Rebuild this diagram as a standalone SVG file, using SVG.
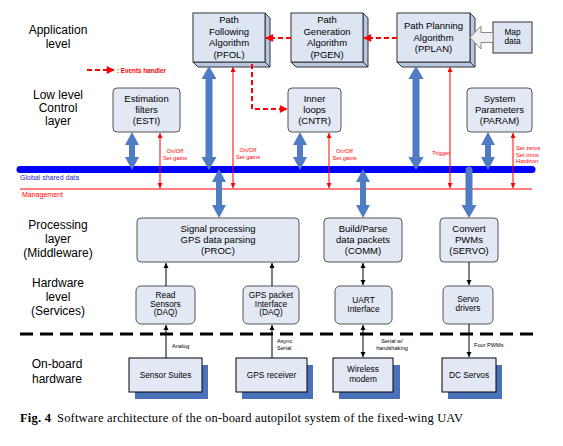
<svg xmlns="http://www.w3.org/2000/svg" width="563" height="446" viewBox="0 0 563 446">
<style>
.lbl{font-family:"Liberation Sans",Arial,sans-serif;font-size:12px;fill:#000;text-anchor:middle}
.bt{font-family:"Liberation Sans",Arial,sans-serif;font-size:9.5px;fill:#000;text-anchor:middle}
.st{font-family:"Liberation Sans",Arial,sans-serif;font-size:8.3px;fill:#000;text-anchor:middle}
.tiny{font-family:"Liberation Sans",Arial,sans-serif;font-size:5.6px;fill:#000}
.rt{font-family:"Liberation Sans",Arial,sans-serif;font-size:5.8px;fill:#f00}
.front{fill:#dde5f2;stroke:#333;stroke-width:1}
.side{fill:#b7c7e2;stroke:#333;stroke-width:1}
.rbox{fill:#e3e9f4;stroke:#555;stroke-width:1}
.hw{fill:#e3e9f4;stroke:#000;stroke-width:1}
.shadow{fill:#4a72bb}
.barrow{fill:#4f7cc3}
.red{stroke:#f00;stroke-width:1;fill:none}
.rdash{stroke:#f00;stroke-width:2;stroke-dasharray:5 3;fill:none}
.blk{stroke:#000;stroke-width:1;fill:none}
.cap{font-family:"Liberation Serif","Times New Roman",serif;font-size:12.5px;fill:#000}
</style>
<defs>
<marker id="ra" viewBox="0 0 10 10" refX="10" refY="5" markerWidth="5" markerHeight="5" orient="auto-start-reverse" markerUnits="userSpaceOnUse"><path d="M0,0 L10,5 L0,10 z" fill="#f00"/></marker>
<marker id="rda" viewBox="0 0 10 10" refX="9" refY="5" markerWidth="9" markerHeight="8" orient="auto" markerUnits="userSpaceOnUse"><path d="M0,0 L10,5 L0,10 z" fill="#f00"/></marker>
<marker id="ka" viewBox="0 0 10 10" refX="10" refY="5" markerWidth="5" markerHeight="6" orient="auto-start-reverse" markerUnits="userSpaceOnUse"><path d="M0,0 L10,5 L0,10 z" fill="#000"/></marker>
</defs>
<rect width="563" height="446" fill="#fff"/>

<!-- layer labels -->
<g id="layer-labels">
<text class="lbl" x="58" y="34">Application</text>
<text class="lbl" x="58" y="48">level</text>
<text class="lbl" x="58" y="99">Low level</text>
<text class="lbl" x="58" y="112">Control</text>
<text class="lbl" x="58" y="125">layer</text>
<text class="lbl" x="58" y="229">Processing</text>
<text class="lbl" x="58" y="243">layer</text>
<text class="lbl" x="58" y="257">(Middleware)</text>
<text class="lbl" x="58" y="287">Hardware</text>
<text class="lbl" x="58" y="301">level</text>
<text class="lbl" x="58" y="315">(Services)</text>
<text class="lbl" x="57" y="368">On-board</text>
<text class="lbl" x="57" y="383">hardware</text>
</g>

<!-- bus and management -->
<g id="bus">
<line x1="20" y1="169.5" x2="532" y2="169.5" stroke="#0000ff" stroke-width="7" stroke-linecap="round"/>
<text x="20" y="180" font-family="Liberation Sans, Arial, sans-serif" font-size="7" fill="#1a1ad0">Global shared data</text>
<line x1="20" y1="189" x2="532" y2="189" stroke="#f00" stroke-width="1"/>
<text x="22" y="197" font-family="Liberation Sans, Arial, sans-serif" font-size="7" fill="#f00">Management</text>
<line x1="20" y1="334" x2="535" y2="334" stroke="#000" stroke-width="3" stroke-dasharray="13 7"/>
</g>

<!-- application nodes -->
<g id="PFOL">
<polygon class="side" points="265,13 270,18 270,67 265,62"/>
<polygon class="side" points="193,62 198,67 270,67 265,62"/>
<rect class="front" x="193" y="13" width="72" height="49"/>
<text class="bt" x="229" y="23">Path</text>
<text class="bt" x="229" y="34.5">Following</text>
<text class="bt" x="229" y="46">Algorithm</text>
<text class="bt" x="229" y="57.5">(PFOL)</text>
</g>
<g id="PGEN">
<polygon class="side" points="363,13 368,18 368,67 363,62"/>
<polygon class="side" points="291,62 296,67 368,67 363,62"/>
<rect class="front" x="291" y="13" width="72" height="49"/>
<text class="bt" x="327" y="23">Path</text>
<text class="bt" x="327" y="34.5">Generation</text>
<text class="bt" x="327" y="46">Algorithm</text>
<text class="bt" x="327" y="57.5">(PGEN)</text>
</g>
<g id="PPLAN">
<polygon class="side" points="470,13 475,18 475,67 470,62"/>
<polygon class="side" points="397,62 402,67 475,67 470,62"/>
<rect class="front" x="397" y="13" width="73" height="49"/>
<text class="bt" x="433.5" y="29">Path Planning</text>
<text class="bt" x="433.5" y="40.5">Algorithm</text>
<text class="bt" x="433.5" y="52">(PPLAN)</text>
</g>
<g id="MAP">
<rect x="493" y="22" width="39" height="31" fill="#dde5f2" stroke="#333" stroke-width="1"/>
<text class="st" x="512.5" y="35" font-size="7.5">Map</text>
<text class="st" x="512.5" y="44" font-size="7.5">data</text>
</g>

<!-- low level nodes -->
<g id="ESTI">
<rect class="rbox" x="113" y="88" width="67" height="44" rx="4"/>
<text class="bt" x="146.5" y="102">Estimation</text>
<text class="bt" x="146.5" y="113">filters</text>
<text class="bt" x="146.5" y="124">(ESTI)</text>
</g>
<g id="CNTR">
<rect class="rbox" x="288" y="88" width="53" height="44" rx="4"/>
<text class="bt" x="314.5" y="102">Inner</text>
<text class="bt" x="314.5" y="113">loops</text>
<text class="bt" x="314.5" y="124">(CNTR)</text>
</g>
<g id="PARAM">
<rect class="rbox" x="467" y="88" width="65" height="44" rx="4"/>
<text class="bt" x="499.5" y="102">System</text>
<text class="bt" x="499.5" y="113">Parameters</text>
<text class="bt" x="499.5" y="124">(PARAM)</text>
</g>

<!-- processing nodes -->
<g id="PROC">
<rect class="rbox" x="137" y="218" width="162" height="44" rx="4"/>
<text class="bt" x="218" y="232">Signal processing</text>
<text class="bt" x="218" y="243">GPS data parsing</text>
<text class="bt" x="218" y="254">(PROC)</text>
</g>
<g id="COMM">
<rect class="rbox" x="324" y="218" width="78" height="44" rx="4"/>
<text class="bt" x="363" y="232">Build/Parse</text>
<text class="bt" x="363" y="243">data packets</text>
<text class="bt" x="363" y="254">(COMM)</text>
</g>
<g id="SERVO">
<rect class="rbox" x="440" y="218" width="58" height="44" rx="4"/>
<text class="bt" x="469" y="232">Convert</text>
<text class="bt" x="469" y="243">PWMs</text>
<text class="bt" x="469" y="254">(SERVO)</text>
</g>

<!-- hardware level -->
<g id="DAQ1">
<rect class="rbox" x="136" y="286" width="59" height="38" rx="5"/>
<text class="st" x="165.5" y="298">Read</text>
<text class="st" x="165.5" y="306.5">Sensors</text>
<text class="st" x="165.5" y="315">(DAQ)</text>
</g>
<g id="DAQ2">
<rect class="rbox" x="243" y="286" width="56" height="38" rx="5"/>
<text class="st" x="271" y="298">GPS packet</text>
<text class="st" x="271" y="306.5">Interface</text>
<text class="st" x="271" y="315">(DAQ)</text>
</g>
<g id="UART">
<rect class="rbox" x="335" y="286" width="57" height="38" rx="5"/>
<text class="st" x="363.5" y="303">UART</text>
<text class="st" x="363.5" y="312">Interface</text>
</g>
<g id="SERVODRV">
<rect class="rbox" x="443" y="286" width="50" height="38" rx="5"/>
<text class="st" x="468" y="302">Servo</text>
<text class="st" x="468" y="311">drivers</text>
</g>

<!-- on-board hardware -->
<g id="SENSORS">
<rect class="shadow" x="135" y="365" width="73" height="34"/>
<rect class="hw" x="129" y="358" width="73" height="34"/>
<text class="st" x="165.5" y="378">Sensor Suites</text>
</g>
<g id="GPSRX">
<rect class="shadow" x="242" y="365" width="71" height="34"/>
<rect class="hw" x="236" y="358" width="71" height="34"/>
<text class="st" x="271.5" y="378">GPS receiver</text>
</g>
<g id="MODEM">
<rect class="shadow" x="339" y="365" width="61" height="34"/>
<rect class="hw" x="333" y="358" width="60" height="34"/>
<text class="st" x="363" y="372">Wireless</text>
<text class="st" x="363" y="382">modem</text>
</g>
<g id="DCSERVOS">
<rect class="shadow" x="448" y="365" width="54" height="34"/>
<rect class="hw" x="442" y="358" width="54" height="34"/>
<text class="st" x="469" y="378">DC Servos</text>
</g>

<!-- connectors -->
<g id="connectors">
<polygon points="470,37.5 481,26 481,32.5 493,32.5 493,42.5 481,42.5 481,49" fill="#f0f0f0" stroke="#888" stroke-width="1"/>
<line class="rdash" x1="397" y1="38" x2="364" y2="38" marker-end="url(#rda)"/>
<line class="rdash" x1="291" y1="38" x2="266" y2="38" marker-end="url(#rda)"/>
<polyline class="rdash" points="252,64 252,109 287,109" marker-end="url(#rda)"/>
<line class="rdash" x1="87" y1="70" x2="114" y2="70" marker-end="url(#rda)"/>
<text x="117" y="72.5" font-family="Liberation Sans, Arial, sans-serif" font-size="6.3" font-weight="bold" fill="#f00">: Events handler</text>

<polygon class="barrow" points="209,66 216.5,79 212.5,79 212.5,157 216.5,157 209,170 201.5,157 205.5,157 205.5,79 201.5,79"/>
<polygon class="barrow" points="132,132 139,145 135,145 135,157 139,157 132,170 125,157 129,157 129,145 125,145"/>
<polygon class="barrow" points="300,132 307,145 303,145 303,157 307,157 300,170 293,157 297,157 297,145 293,145"/>
<polygon class="barrow" points="488,132 495,145 491,145 491,157 495,157 488,170 481,157 485,157 485,145 481,145"/>
<polygon class="barrow" points="416,66 423.5,79 419.5,79 419.5,157 423.5,157 416,170 408.5,157 412.5,157 412.5,79 408.5,79"/>
<polygon class="barrow" points="219,169 226,182 222,182 222,205 226,205 219,218 212,205 216,205 216,182 212,182"/>
<polygon class="barrow" points="363,169 370,182 366,182 366,205 370,205 363,218 356,205 360,205 360,182 356,182"/>
<path class="barrow" d="M465.5,170 A3.5,3.5 0 0 1 472.5,170 L472.5,205 L476.5,205 L469,218 L461.5,205 L465.5,205 Z"/>

<line class="red" x1="160" y1="133" x2="160" y2="188" marker-start="url(#ra)" marker-end="url(#ra)"/>
<line class="red" x1="233" y1="67" x2="233" y2="188" marker-start="url(#ra)" marker-end="url(#ra)"/>
<line class="red" x1="329" y1="133" x2="329" y2="188" marker-start="url(#ra)" marker-end="url(#ra)"/>
<line class="red" x1="450" y1="67" x2="450" y2="188" marker-start="url(#ra)" marker-end="url(#ra)"/>
<line class="red" x1="513" y1="133" x2="513" y2="188" marker-start="url(#ra)" marker-end="url(#ra)"/>
<text class="rt" x="175" y="153" text-anchor="middle">On/Off</text>
<text class="rt" x="175" y="159.5" text-anchor="middle">Set gains</text>
<text class="rt" x="248" y="152" text-anchor="middle">On/Off</text>
<text class="rt" x="248" y="158.5" text-anchor="middle">Set gains</text>
<text class="rt" x="344.5" y="153" text-anchor="middle">On/Off</text>
<text class="rt" x="344.5" y="159.5" text-anchor="middle">Set gains</text>
<text class="rt" x="432" y="155">Trigger</text>
<text class="rt" x="516" y="150">Set zeros</text>
<text class="rt" x="516" y="156.5">Set trims</text>
<text class="rt" x="516" y="163">Hardiron</text>

<line class="blk" x1="166" y1="286" x2="166" y2="263" marker-end="url(#ka)"/>
<line class="blk" x1="272" y1="286" x2="272" y2="263" marker-end="url(#ka)"/>
<line class="blk" x1="363" y1="263" x2="363" y2="285" marker-start="url(#ka)" marker-end="url(#ka)"/>
<line class="blk" x1="469" y1="262" x2="469" y2="285" marker-end="url(#ka)"/>
<line class="blk" x1="166" y1="358" x2="166" y2="325" marker-end="url(#ka)"/>
<line class="blk" x1="272" y1="358" x2="272" y2="325" marker-end="url(#ka)"/>
<line class="blk" x1="363" y1="325" x2="363" y2="357" marker-start="url(#ka)" marker-end="url(#ka)"/>
<line class="blk" x1="469" y1="324" x2="469" y2="357" marker-end="url(#ka)"/>
<text class="tiny" x="172" y="347.5">Analog</text>
<text class="tiny" x="277" y="343">Async</text>
<text class="tiny" x="277" y="349.5">Serial</text>
<text class="tiny" x="392" y="343" text-anchor="middle">Serial w/</text>
<text class="tiny" x="392" y="349.5" text-anchor="middle">handshaking</text>
<text class="tiny" x="474" y="346.5">Four PWMs</text>
</g>

<!-- caption -->
<g id="caption">
<text class="cap" x="20" y="422" font-weight="bold" textLength="31" lengthAdjust="spacing">Fig. 4</text>
<text class="cap" x="57" y="422" textLength="406" lengthAdjust="spacing">Software architecture of the on-board autopilot system of the fixed-wing UAV</text>
</g>
</svg>
